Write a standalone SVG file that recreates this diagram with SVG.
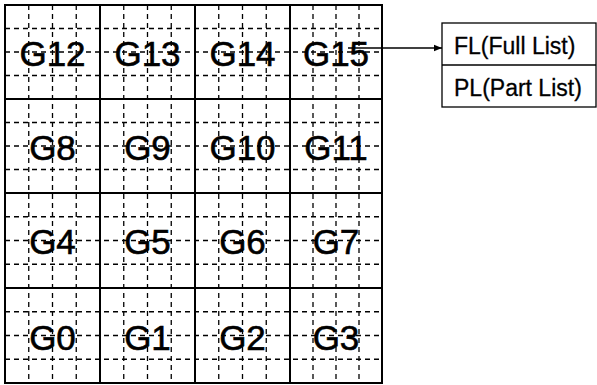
<svg xmlns="http://www.w3.org/2000/svg" width="597" height="385" viewBox="0 0 597 385">
<style>
.dash{stroke:#000;stroke-width:1.3;stroke-dasharray:5 4;fill:none}
.solid{stroke:#000;stroke-width:2;fill:none}
.lbl{font-family:"Liberation Sans",Arial,sans-serif;font-size:35px;text-anchor:middle;fill:#000;stroke:#000;stroke-width:0.6}
.box{stroke:#000;stroke-width:1.3;fill:#fff}
.btxt{font-family:"Liberation Sans",Arial,sans-serif;font-size:23px;fill:#000;stroke:#000;stroke-width:0.3}
</style>
<defs>
<marker id="arr" viewBox="0 0 10 10" refX="10" refY="5" markerWidth="8" markerHeight="8" markerUnits="userSpaceOnUse" orient="auto">
<path d="M0,1 L10,5 L0,9 z" fill="#000"/>
</marker>
</defs>
<rect width="597" height="385" fill="#fff"/>
<g id="dashgrid">
<path class="dash" d="M28.75,5V383M52.5,5V383M76.25,5V383M123.75,5V383M147.5,5V383M171.25,5V383M218.75,5V383M242.5,5V383M266.25,5V383M313,5V383M336,5V383M359,5V383"/>
<path class="dash" d="M5,28.5H382M5,52H382M5,75.5H382M5,122.5H382M5,146H382M5,169.5H382M5,216.75H382M5,240.5H382M5,264.25H382M5,311.75H382M5,335.5H382M5,359.25H382"/>
</g>
<g id="grid">
<rect class="solid" x="5" y="5" width="377" height="378"/>
<path class="solid" d="M100,5V383M195,5V383M290,5V383M5,99H382M5,193H382M5,288H382"/>
</g>
<g id="G12"><text class="lbl" x="52.5" y="66">G12</text></g>
<g id="G13"><text class="lbl" x="147.5" y="66">G13</text></g>
<g id="G14"><text class="lbl" x="242.5" y="66">G14</text></g>
<g id="G15"><text class="lbl" x="336" y="66">G15</text></g>
<g id="G8"><text class="lbl" x="52.5" y="160">G8</text></g>
<g id="G9"><text class="lbl" x="147.5" y="160">G9</text></g>
<g id="G10"><text class="lbl" x="242.5" y="160">G10</text></g>
<g id="G11"><text class="lbl" x="336" y="160">G11</text></g>
<g id="G4"><text class="lbl" x="52.5" y="254">G4</text></g>
<g id="G5"><text class="lbl" x="147.5" y="254">G5</text></g>
<g id="G6"><text class="lbl" x="242.5" y="254">G6</text></g>
<g id="G7"><text class="lbl" x="336" y="254">G7</text></g>
<g id="G0"><text class="lbl" x="52.5" y="350">G0</text></g>
<g id="G1"><text class="lbl" x="147.5" y="350">G1</text></g>
<g id="G2"><text class="lbl" x="242.5" y="350">G2</text></g>
<g id="G3"><text class="lbl" x="336" y="350">G3</text></g>
<g id="list">
<rect class="box" x="442" y="23" width="154" height="84"/>
<line class="box" x1="442" y1="65" x2="596" y2="65"/>
<text class="btxt" x="454" y="54">FL(Full List)</text>
<text class="btxt" x="454" y="96">PL(Part List)</text>
</g>
<g id="connectors">
<line x1="348" y1="48" x2="442" y2="48" stroke="#000" stroke-width="1.3" marker-end="url(#arr)"/>
</g>
</svg>
